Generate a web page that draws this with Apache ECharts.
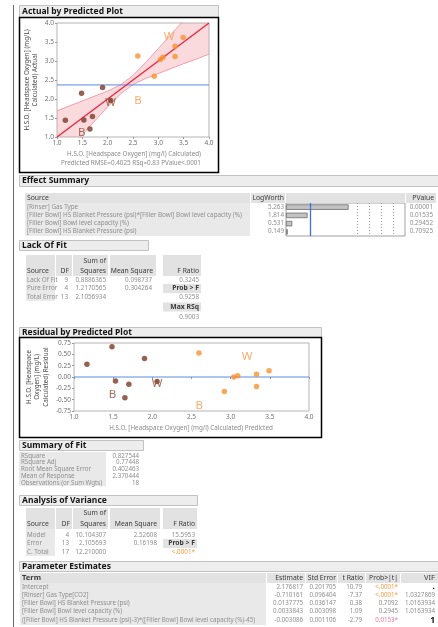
<!DOCTYPE html>
<html><head><meta charset="utf-8">
<script src="https://cdn.jsdelivr.net/npm/echarts/dist/echarts.min.js"></script>
<style>html,body{margin:0;padding:0;background:#fff;}#c{width:438px;height:627px;}</style>
</head><body><div id="c"></div><script>
const FONT = "'Noto Sans', 'Open Sans', sans-serif";
// ---------- plot data ----------
const brownPredicted = [1.165, 1.485, 1.53, 1.65, 1.70, 1.90, 2.06];
const brownActual    = [1.44, 2.15, 1.45, 1.21, 1.54, 2.30, 1.96];
const brownResidual  = [0.28, 0.67, -0.09, -0.46, -0.16, 0.41, -0.10];
const orangePredicted = [2.595, 2.92, 3.04, 3.09, 3.33, 3.33, 3.49];
const orangeActual    = [3.13, 2.60, 3.04, 3.10, 3.39, 3.12, 3.62];
const orangeResidual  = [0.53, -0.32, 0.00, 0.03, 0.06, -0.21, 0.14];
const letterPredicted = [1.49, 2.06, 2.60, 3.21];
const letterActual    = [1.12, 1.91, 1.96, 3.65];
const letterResidual  = [-0.38, -0.15, -0.64, 0.44];
const letterText      = ['B', 'W', 'B', 'W'];
const letterGroup     = ['brown', 'brown', 'orange', 'orange'];
const bandX     = [1.0, 1.25, 1.5, 1.75, 2.0, 2.25, 2.5, 2.75, 3.0, 3.25, 3.5, 3.75, 4.0];
const bandUpper = [1.69, 1.82, 1.95, 2.08, 2.21, 2.37, 2.62, 2.96, 3.33, 3.70, 4.07, 4.45, 4.82];
const bandLower = [0.31, 0.68, 1.06, 1.43, 1.79, 2.13, 2.38, 2.54, 2.67, 2.80, 2.93, 3.05, 3.18];
const fitLineX = [1.0, 4.0];
const fitLineY = [1.0, 4.0];
const meanResponse = 2.370444;
// ---------- effect summary ----------
const effectSources = ['[Rinser] Gas Type',
  '[Filler Bowl] HS Blanket Pressure (psi)*[Filler Bowl] Bowl level capacity (%)',
  '[Filler Bowl] Bowl level capacity (%)',
  '[Filler Bowl] HS Blanket Pressure (psi)'];
const effectLogWorth = [5.263, 1.814, 0.531, 0.149];
const effectPValue = ['0.00001', '0.01535', '0.29452', '0.70925'];
const logWorthGuides = [6, 7, 8, 9];
const logWorthThreshold = 2;
// ---------- lack of fit ----------
const lofSources = ['Lack Of Fit', 'Pure Error', 'Total Error'];
const lofDF = ['9', '4', '13'];
const lofSS = ['0.8886365', '1.2170565', '2.1056934'];
const lofMS = ['0.098737', '0.304264', ''];
const lofFcol = ['0.3245', 'Prob > F', '0.9258', 'Max RSq', '0.9003'];
// ---------- summary of fit ----------
const sofLabels = ['RSquare', 'RSquare Adj', 'Root Mean Square Error', 'Mean of Response', 'Observations (or Sum Wgts)'];
const sofValues = ['0.827544', '0.77448', '0.402463', '2.370444', '18'];
// ---------- analysis of variance ----------
const anovaSources = ['Model', 'Error', 'C. Total'];
const anovaDF = ['4', '13', '17'];
const anovaSS = ['10.104307', '2.105693', '12.210000'];
const anovaMS = ['2.52608', '0.16198', ''];
const anovaF = ['15.5953', 'Prob > F', '<.0001*'];
// ---------- parameter estimates ----------
const peTerms = ['Intercept', '[Rinser] Gas Type[CO2]', '[Filler Bowl] HS Blanket Pressure (psi)',
  '[Filler Bowl] Bowl level capacity (%)',
  '([Filler Bowl] HS Blanket Pressure (psi)-3)*([Filler Bowl] Bowl level capacity (%)-45)'];
const peEstimate = ['2.176817', '-0.710161', '0.0137775', '0.0033843', '-0.003086'];
const peStdErr = ['0.201705', '0.096404', '0.036147', '0.003098', '0.001106'];
const peT = ['10.79', '-7.37', '0.38', '1.09', '-2.79'];
const peProb = ['<.0001*', '<.0001*', '0.7092', '0.2945', '0.0153*'];
const peVIF = ['.', '1.0327869', '1.0163934', '1.0163934', '1'];

// ---------- colours ----------
const BROWN = '#7a3a26', ORANGE = '#f7912f', BROWN_L = '#8c4a32', ORANGE_L = '#f59a45';
const VAL = '#8e8e8e', HEAD = '#3a3a3a', CELL = '#e9e9e9', HCELL = '#e2e2e2';

// ---------- graphic helpers ----------
const G = [];
function box(x, y, w, h, fill, stroke, lw, z) {
  G.push({type: 'rect', silent: true, z: z || 0, shape: {x: x, y: y, width: w, height: h},
    style: {fill: fill || 'transparent', stroke: stroke || 'transparent', lineWidth: lw || 1}});
}
function seg(x1, y1, x2, y2, c, lw, z) {
  G.push({type: 'line', silent: true, z: z || 5, shape: {x1: x1, y1: y1, x2: x2, y2: y2},
    style: {stroke: c, lineWidth: lw || 1}});
}
function txt(x, y, s, o) {
  o = o || {};
  G.push({type: 'text', silent: true, z: 10, x: x, y: y, rotation: o.rot || 0,
    style: {text: s, fill: o.c || VAL, fontSize: o.fs || 6.5, fontFamily: FONT,
      fontWeight: o.fw || 'normal', align: o.al || 'left', verticalAlign: 'middle',
      textAlign: o.al || 'left', textVerticalAlign: 'middle'}});
}
function header(x, y, w, h, title) {
  box(x + 0.5, y + 0.5, w, h, '#ededed', '#c2c2c2', 1);
  txt(x + 3, y + h / 2 + 0.5, title, {c: '#151515', fs: 8.5, fw: 'bold'});
}

// outline bracket
seg(13.5, 5, 13.5, 627, '#6a6a6a', 1);

// ---- Actual by Predicted ----
header(19, 5, 199, 12, 'Actual by Predicted Plot');
box(19.5, 17.5, 199, 155, null, '#000', 1.5, 6);
txt(27, 80, 'H.S.O. [Headspace Oxygen] (mg/L)', {rot: Math.PI / 2, al: 'center', c: '#4a4a4a', fs: 6.3});
txt(35, 80, 'Calculated) Actual', {rot: Math.PI / 2, al: 'center', c: '#4a4a4a', fs: 6.3});
txt(134, 154.5, 'H.S.O. [Headspace Oxygen] (mg/l) Calculated)', {al: 'center', c: '#8a8a8a', fs: 6.3});
txt(131, 163.5, 'Predicted RMSE=0.4025 RSq=0.83 PValue<.0001', {al: 'center', c: '#8a8a8a', fs: 6.3});

// ---- Effect Summary ----
header(19, 175, 419, 11, 'Effect Summary');
box(25, 193, 225, 10, HCELL);
box(251, 193, 34, 10, HCELL);
box(286, 193, 119, 10, HCELL);
box(406, 193, 30, 10, HCELL);
box(25, 203, 225, 33, CELL);
txt(27, 198.5, 'Source', {c: HEAD, fs: 6.8});
txt(284, 198.5, 'LogWorth', {c: HEAD, fs: 6.8, al: 'right'});
txt(434, 198.5, 'PValue', {c: HEAD, fs: 6.8, al: 'right'});
const esY = [207, 215, 223, 231];
effectSources.forEach((s, i) => {
  txt(27, esY[i], s, {fs: 6.3});
  txt(284, esY[i], effectLogWorth[i].toFixed(3), {fs: 6.3, al: 'right'});
  txt(433, esY[i], effectPValue[i], {fs: 6.3, al: 'right'});
});

// ---- Lack Of Fit ----
header(19, 240, 129, 10, 'Lack Of Fit');
box(26, 255, 29, 21, HCELL); box(56, 255, 16, 21, HCELL); box(73, 255, 35, 21, HCELL);
box(110, 255, 46, 21, HCELL); box(163, 255, 38, 21, HCELL);
box(26, 276, 29, 25, CELL);
txt(106, 261.5, 'Sum of', {c: HEAD, fs: 6.8, al: 'right'});
txt(27, 271.5, 'Source', {c: HEAD, fs: 6.8});
txt(69, 271.5, 'DF', {c: HEAD, fs: 6.8, al: 'right'});
txt(106, 271.5, 'Squares', {c: HEAD, fs: 6.8, al: 'right'});
txt(153, 271.5, 'Mean Square', {c: HEAD, fs: 6.8, al: 'right'});
txt(199, 271.5, 'F Ratio', {c: HEAD, fs: 6.8, al: 'right'});
const lofY = [280, 288.5, 297];
lofSources.forEach((s, i) => {
  txt(27, lofY[i], s, {fs: 6.3});
  txt(68, lofY[i], lofDF[i], {fs: 6.3, al: 'right'});
  txt(106, lofY[i], lofSS[i], {fs: 6.3, al: 'right'});
  txt(152, lofY[i], lofMS[i], {fs: 6.3, al: 'right'});
});
const lofFY = [280, 288.5, 297, 307, 317];
box(163, 284, 38, 9, HCELL); box(163, 302.5, 38, 9, HCELL);
lofFcol.forEach((s, i) => {
  const bold = (i === 1 || i === 3);
  txt(199, lofFY[i], s, {fs: bold ? 6.8 : 6.3, al: 'right', c: bold ? HEAD : VAL, fw: bold ? 'bold' : 'normal'});
});

// ---- Residual by Predicted ----
header(19, 327, 302, 10, 'Residual by Predicted Plot');
box(19.5, 337.5, 302, 100, null, '#000', 1.5, 6);
txt(29, 377, 'H.S.O. [Headspace', {rot: Math.PI / 2, al: 'center', c: '#4a4a4a', fs: 6.3});
txt(37.5, 377, 'Oxygen] (mg/L)', {rot: Math.PI / 2, al: 'center', c: '#4a4a4a', fs: 6.3});
txt(46, 377, 'Calculated) Residual', {rot: Math.PI / 2, al: 'center', c: '#4a4a4a', fs: 6.3});
txt(191, 428.5, 'H.S.O. [Headspace Oxygen] (mg/l) Calculated) Predicted', {al: 'center', c: '#8a8a8a', fs: 6.3});

// ---- Summary of Fit ----
header(19, 440, 124, 10, 'Summary of Fit');
box(19, 452, 87, 34, CELL);
sofLabels.forEach((s, i) => {
  const y = 456 + i * 6.7;
  txt(21, y, s, {fs: 6.2});
  txt(139, y, sofValues[i], {fs: 6.2, al: 'right'});
});

// ---- Analysis of Variance ----
header(19, 495, 178, 10, 'Analysis of Variance');
box(26, 508, 29, 21, HCELL); box(56, 508, 16, 21, HCELL); box(73, 508, 35, 21, HCELL);
box(110, 508, 50, 21, HCELL); box(163, 508, 34, 21, HCELL);
box(26, 529, 29, 27, CELL);
txt(106, 513.5, 'Sum of', {c: HEAD, fs: 6.8, al: 'right'});
txt(27, 524, 'Source', {c: HEAD, fs: 6.8});
txt(70, 524, 'DF', {c: HEAD, fs: 6.8, al: 'right'});
txt(106, 524, 'Squares', {c: HEAD, fs: 6.8, al: 'right'});
txt(157, 524, 'Mean Square', {c: HEAD, fs: 6.8, al: 'right'});
txt(195, 524, 'F Ratio', {c: HEAD, fs: 6.8, al: 'right'});
const avY = [535, 543.5, 552];
box(163, 539, 34, 9, HCELL);
anovaSources.forEach((s, i) => {
  txt(27, avY[i], s, {fs: 6.3});
  txt(69, avY[i], anovaDF[i], {fs: 6.3, al: 'right'});
  txt(106, avY[i], anovaSS[i], {fs: 6.3, al: 'right'});
  txt(157, avY[i], anovaMS[i], {fs: 6.3, al: 'right'});
  const isProb = i === 1, isSig = i === 2;
  txt(195, avY[i], anovaF[i], {fs: isProb ? 6.8 : 6.3, al: 'right', fw: isProb ? 'bold' : 'normal',
    c: isProb ? HEAD : (isSig ? ORANGE_L : VAL)});
});

// ---- Parameter Estimates ----
header(19, 561, 419, 10, 'Parameter Estimates');
box(20, 573, 246, 10, HCELL);
box(267, 573, 38, 10, HCELL); box(306, 573, 31, 10, HCELL); box(338, 573, 27, 10, HCELL);
box(366, 573, 34, 10, HCELL); box(401, 573, 37, 10, HCELL);
box(20, 583, 246, 42, CELL);
txt(22, 578, 'Term', {c: HEAD, fs: 7.5, fw: 'bold'});
txt(303, 578, 'Estimate', {c: HEAD, fs: 6.8, al: 'right'});
txt(336, 578, 'Std Error', {c: HEAD, fs: 6.8, al: 'right'});
txt(363, 578, 't Ratio', {c: HEAD, fs: 6.8, al: 'right'});
txt(398, 578, 'Prob>|t|', {c: HEAD, fs: 6.8, al: 'right'});
txt(435, 578, 'VIF', {c: HEAD, fs: 7.5, al: 'right'});
const peY = [587, 595, 603.3, 611.7, 620.5];
peTerms.forEach((s, i) => {
  txt(22, peY[i], s, {fs: 6.2});
  txt(303, peY[i], peEstimate[i], {fs: 6.2, al: 'right'});
  txt(336, peY[i], peStdErr[i], {fs: 6.2, al: 'right'});
  txt(362, peY[i], peT[i], {fs: 6.2, al: 'right'});
  const pc = peProb[i].indexOf('<') === 0 ? ORANGE_L : (peProb[i].indexOf('*') > 0 ? '#f07a98' : VAL);
  txt(398, peY[i], peProb[i], {fs: 6.2, al: 'right', c: pc});
  const big = (peVIF[i] === '.' || peVIF[i] === '1');
  txt(435, peY[i], peVIF[i], {fs: big ? 8.5 : 6.2, al: 'right', c: big ? '#111' : VAL, fw: big ? 'bold' : 'normal'});
});

// ---------- axes helpers ----------
function valAxis(grid, min, max, interval, dec) {
  return {type: 'value', gridIndex: grid, min: min, max: max, interval: interval,
    axisLine: {show: false}, splitLine: {show: false},
    axisTick: {show: true, length: 2, lineStyle: {color: '#999'}},
    axisLabel: {fontSize: 6.5, color: '#707070', fontFamily: FONT, margin: 3,
      formatter: v => v.toFixed(dec)}};
}
const pairs = (xs, ys) => xs.map((x, i) => [x, ys[i]]);
const letterData = (ys) => letterPredicted.map((x, i) => ({value: [x, ys[i]],
  label: {color: letterGroup[i] === 'brown' ? BROWN_L : ORANGE_L}}));
const letterSeries = (xi, yi, ys) => ({type: 'scatter', xAxisIndex: xi, yAxisIndex: yi, symbolSize: 1,
  itemStyle: {color: 'rgba(0,0,0,0)'}, z: 4, data: letterData(ys),
  label: {show: true, position: 'inside', fontSize: 11.5, fontFamily: FONT,
    formatter: p => letterText[p.dataIndex]}});

const option = {
  animation: false,
  backgroundColor: '#fff',
  graphic: {elements: G},
  grid: [
    {left: 57, top: 23, width: 152, height: 114, show: true, borderColor: '#b4b4b4', borderWidth: 1, backgroundColor: '#fff'},
    {left: 74, top: 343, width: 235, height: 68, show: true, borderColor: '#b4b4b4', borderWidth: 1, backgroundColor: '#fff'},
    {left: 286, top: 203, width: 119, height: 33, show: true, borderColor: '#a0a0a0', borderWidth: 1, backgroundColor: 'transparent'}
  ],
  xAxis: [
    valAxis(0, 1, 4, 0.5, 1),
    valAxis(1, 1, 4, 0.5, 1),
    {type: 'value', gridIndex: 2, min: 0, max: 10, show: false}
  ],
  yAxis: [
    valAxis(0, 1, 4, 0.5, 1),
    valAxis(1, -0.75, 0.75, 0.25, 2),
    {type: 'category', gridIndex: 2, inverse: true, show: false, data: effectSources}
  ],
  series: [
    {type: 'custom', xAxisIndex: 0, yAxisIndex: 0, z: 1, data: [0],
      renderItem: (params, api) => {
        const pts = [];
        bandX.forEach((x, i) => pts.push(api.coord([x, bandUpper[i]])));
        for (let i = bandX.length - 1; i >= 0; i--) pts.push(api.coord([bandX[i], bandLower[i]]));
        const cs = params.coordSys;
        return {type: 'group',
          clipPath: {type: 'rect', shape: {x: cs.x, y: cs.y, width: cs.width, height: cs.height}},
          children: [{type: 'polygon', shape: {points: pts}, style: {fill: 'rgba(242,140,152,0.32)'}}]};
      }},
    {type: 'line', xAxisIndex: 0, yAxisIndex: 0, data: pairs(bandX, bandUpper), symbol: 'none', z: 2,
      lineStyle: {color: '#f08a98', width: 0.8}},
    {type: 'line', xAxisIndex: 0, yAxisIndex: 0, data: pairs(bandX, bandLower), symbol: 'none', z: 2,
      lineStyle: {color: '#f08a98', width: 0.8}},
    {type: 'line', xAxisIndex: 0, yAxisIndex: 0, data: [[fitLineX[0], meanResponse], [fitLineX[1], meanResponse]],
      symbol: 'none', z: 2, lineStyle: {color: '#5b8ae2', width: 1}},
    {type: 'line', xAxisIndex: 0, yAxisIndex: 0, data: pairs(fitLineX, fitLineY), symbol: 'none', z: 3,
      lineStyle: {color: '#e8283f', width: 1.4}},
    {type: 'scatter', xAxisIndex: 0, yAxisIndex: 0, symbolSize: 5.5, z: 4, itemStyle: {color: BROWN},
      data: pairs(brownPredicted, brownActual)},
    {type: 'scatter', xAxisIndex: 0, yAxisIndex: 0, symbolSize: 5.5, z: 4, itemStyle: {color: ORANGE},
      data: pairs(orangePredicted, orangeActual)},
    letterSeries(0, 0, letterActual),
    // residual plot
    {type: 'line', xAxisIndex: 1, yAxisIndex: 1, data: [[1, 0], [4, 0]], symbol: 'none', z: 2,
      lineStyle: {color: '#5b8ae2', width: 1}},
    {type: 'scatter', xAxisIndex: 1, yAxisIndex: 1, symbolSize: 5.5, z: 4, itemStyle: {color: BROWN},
      data: pairs(brownPredicted, brownResidual)},
    {type: 'scatter', xAxisIndex: 1, yAxisIndex: 1, symbolSize: 5.5, z: 4, itemStyle: {color: ORANGE},
      data: pairs(orangePredicted, orangeResidual)},
    letterSeries(1, 1, letterResidual),
    // effect summary logworth bars
    {type: 'bar', xAxisIndex: 2, yAxisIndex: 2, data: effectLogWorth, barWidth: 5.5, z: 3,
      itemStyle: {color: '#c2c2c2', borderColor: '#6f6f6f', borderWidth: 0.8},
      markLine: {silent: true, symbol: 'none', label: {show: false},
        data: logWorthGuides.map(v => ({xAxis: v, lineStyle: {color: '#9a9a9a', type: [1, 2], width: 1}}))
          .concat([{xAxis: logWorthThreshold, lineStyle: {color: '#3d6fe0', type: 'solid', width: 1.3}}])}}
  ]
};
const chart = echarts.init(document.getElementById('c'), null, {renderer: 'canvas'});
chart.setOption(option);
</script></body></html>
